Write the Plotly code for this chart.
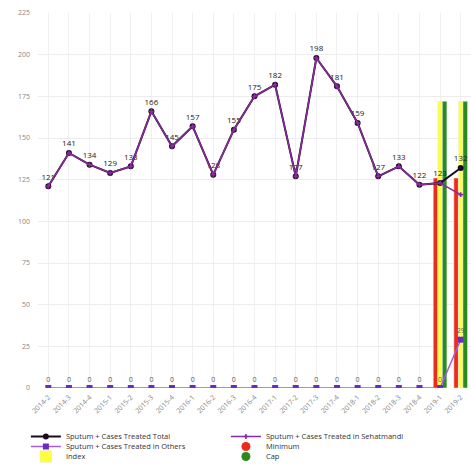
import plotly.graph_objects as go

# Quarterly periods
periods = ["2014-2", "2014-3", "2014-4",
           "2015-1", "2015-2", "2015-3", "2015-4",
           "2016-1", "2016-2", "2016-3", "2016-4",
           "2017-1", "2017-2", "2017-3", "2017-4",
           "2018-1", "2018-2", "2018-3", "2018-4",
           "2019-1", "2019-2"]

treated_total = [121, 141, 134, 129, 133, 166, 145, 157, 128, 155, 175,
                 182, 127, 198, 181, 159, 127, 133, 122, 123, 132]
treated_sehatmandi = [121, 141, 134, 129, 133, 166, 145, 157, 128, 155, 175,
                      182, 127, 198, 181, 159, 127, 133, 122, 123, 116]
treated_others = [0] * 20 + [29]

minimum = [None] * 19 + [126, 126]
index_vals = [None] * 19 + [172, 172]
cap = [None] * 19 + [172, 172]

C_TOTAL = "#1a0a1e"
C_SEHAT = "#8a2a9e"
C_OTHERS = "#a55be0"
C_INDEX = "#ffff40"
C_MIN = "#ee2a1a"
C_CAP = "#2a8a22"

fig = go.Figure()

fig.add_trace(go.Scatter(
    x=periods, y=treated_total, name="Sputum + Cases Treated Total",
    mode="lines+markers+text", text=[str(v) for v in treated_total],
    textposition="top center", textfont=dict(size=8, color="#222"),
    line=dict(color=C_TOTAL, width=2), marker=dict(color=C_TOTAL, size=6),
    legend="legend", legendrank=1))
fig.add_trace(go.Scatter(
    x=periods, y=treated_sehatmandi, name="Sputum + Cases Treated in Sehatmandi",
    mode="lines+markers", line=dict(color=C_SEHAT, width=1.5),
    marker=dict(color=C_SEHAT, size=4, symbol="cross"),
    legend="legend", legendrank=2))
fig.add_trace(go.Scatter(
    x=periods, y=treated_others, name="Sputum + Cases Treated in Others",
    mode="lines+markers+text", text=[str(v) for v in treated_others],
    textposition="top center", textfont=dict(size=7, color="#555"),
    line=dict(color=C_OTHERS, width=1.5),
    marker=dict(color="#6a2bbf", size=6, symbol="square"),
    legend="legend2", legendrank=3))

# Threshold bars
fig.add_trace(go.Bar(x=periods, y=minimum, name="Minimum", marker_color=C_MIN,
                     showlegend=False, legendgroup="min"))
fig.add_trace(go.Bar(x=periods, y=index_vals, name="Index", marker_color=C_INDEX,
                     legend="legend3", legendrank=5))
fig.add_trace(go.Bar(x=periods, y=cap, name="Cap", marker_color=C_CAP,
                     showlegend=False, legendgroup="cap"))

# Round legend keys for Minimum and Cap
fig.add_trace(go.Scatter(x=[None], y=[None], name="Minimum", mode="markers",
                         marker=dict(color=C_MIN, size=9), legendgroup="min",
                         legend="legend2", legendrank=4))
fig.add_trace(go.Scatter(x=[None], y=[None], name="Cap", mode="markers",
                         marker=dict(color=C_CAP, size=9), legendgroup="cap",
                         legend="legend3", legendrank=6))

leg = dict(orientation="h", xanchor="left", yanchor="top", x=0.055,
           xref="container", yref="container",
           bgcolor="rgba(0,0,0,0)", font=dict(size=7.5, color="#333"),
           entrywidth=155, entrywidthmode="pixels", traceorder="normal")

fig.update_layout(
    width=471, height=471,
    margin=dict(l=38, r=0, t=13, b=83, autoexpand=False),
    paper_bgcolor="white", plot_bgcolor="white",
    barmode="group", bargap=0.34, bargroupgap=0,
    font=dict(family="Open Sans, Arial, sans-serif"),
    legend=dict(leg, y=1 - 422 / 471),
    legend2=dict(leg, y=1 - 432 / 471),
    legend3=dict(leg, y=1 - 442 / 471),
    xaxis=dict(type="category", tickangle=-45, tickfont=dict(size=7, color="#888"),
               showgrid=True, gridcolor="#f0f0f0", showline=False, zeroline=False,
               range=[-0.5, 20.5], automargin=False, ticklabelstandoff=3),
    yaxis=dict(range=[0, 225], dtick=25, tickfont=dict(size=7, color="#888"),
               showgrid=True, gridcolor="#ececec", zeroline=False, showline=False,
               automargin=False, ticklabelstandoff=7),
)

fig.write_html("out.html")
